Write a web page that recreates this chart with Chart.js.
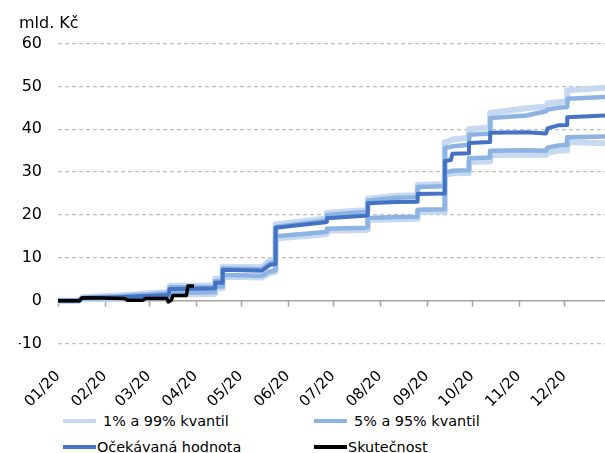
<!DOCTYPE html>
<html>
<head>
<meta charset="utf-8">
<script src="https://cdn.jsdelivr.net/npm/chart.js@4"></script>
<style>
  body { margin: 0; background: #fff; font-family: "DejaVu Sans", Verdana, sans-serif; }
  #wrap { position: relative; width: 605px; height: 453px; overflow: hidden; }
  #box { position: absolute; left: 0; top: 0; width: 605px; height: 408px; }
  .leg { position: absolute; display: flex; align-items: center; font-size: 14.4px; color: #000; white-space: nowrap; height: 20px; }
  .leg i { display: block; width: 33px; }
</style>
</head>
<body>
<div id="wrap">
  <div id="box"><canvas id="forecastChart"></canvas></div>
  <div id="legend"></div>
</div>
<script>
/* ---------- DATA ---------- */
const monthLabels = ["01/20","02/20","03/20","04/20","05/20","06/20","07/20","08/20","09/20","10/20","11/20","12/20"];
const monthStarts = [0, 31, 60, 91, 121, 152, 182, 213, 244, 274, 305, 335];

// day of year where the curves break (repeated day = vertical step)
const days = [0, 14, 16, 40, 73, 74, 91, 104, 104, 109, 109, 135, 140, 144, 144, 177, 178, 178, 203, 205, 205, 224, 238, 238, 256, 256, 260, 261, 272, 272, 286, 286, 310, 323, 324, 331, 337, 337, 362];

const q99 = [0, 0, 0.8, 1.2, 2.0, 3.5, 3.5, 3.6, 5.1, 5.1, 7.9, 7.8, 9.3, 9.6, 17.8, 19.2, 19.3, 20.5, 21.1, 21.2, 23.8, 24.5, 24.6, 27.0, 27.2, 37.0, 37.4, 37.6, 38.0, 40.0, 40.4, 43.8, 44.9, 45.3, 46.0, 46.3, 46.5, 49.1, 49.7];
const q95 = [0, 0, 0.7, 1.0, 1.7, 3.1, 3.1, 3.2, 4.6, 4.6, 7.5, 7.3, 8.7, 9.0, 17.2, 18.7, 18.8, 20.0, 20.7, 20.8, 23.3, 24.0, 24.1, 26.5, 26.7, 35.6, 35.9, 36.0, 36.4, 38.7, 39.0, 42.6, 43.2, 44.2, 44.6, 45.0, 45.2, 47.1, 47.5];
const expected = [0, 0, 0.6, 0.8, 1.3, 2.7, 2.8, 2.9, 4.2, 4.2, 7.2, 7.0, 8.3, 8.6, 17.0, 18.3, 18.4, 19.2, 19.8, 19.9, 22.7, 23.0, 23.1, 24.9, 25.0, 32.6, 32.8, 34.3, 34.4, 36.8, 37.0, 39.2, 39.3, 39.0, 40.2, 40.9, 41.0, 42.8, 43.2];
const q5 = [0, 0, 0.5, 0.6, 0.9, 1.9, 1.9, 2.0, 3.3, 3.3, 6.0, 5.8, 6.8, 7.1, 15.0, 16.0, 16.1, 16.8, 17.0, 17.1, 19.3, 19.5, 19.6, 21.2, 21.3, 30.0, 30.2, 30.3, 30.4, 33.2, 33.4, 35.0, 35.1, 35.0, 35.7, 36.2, 36.3, 38.1, 38.3];
const q1 = [0, 0, 0.4, 0.5, 0.7, 1.5, 1.5, 1.6, 2.9, 2.9, 5.6, 5.4, 6.4, 6.7, 14.5, 15.5, 15.6, 16.3, 16.5, 16.6, 18.8, 19.0, 19.1, 20.7, 20.8, 29.4, 29.6, 29.7, 29.8, 32.3, 32.5, 34.0, 34.1, 34.0, 34.5, 35.0, 35.1, 37.0, 36.7];

const actualDays = [0, 14, 16, 30, 44, 46, 56, 58, 72, 73, 75, 76, 85, 86, 90];
const actual = [0, 0, 0.7, 0.6, 0.5, 0.1, 0.1, 0.5, 0.5, -0.3, 0.1, 1.2, 1.2, 3.4, 3.4];

const legendLabels = ["1% a 99% kvantil", "5% a 95% kvantil", "Očekávaná hodnota", "Skutečnost"];

/* ---------- STYLE ---------- */
const LIGHT = "#c6d9f1";
const MID = "#8db3e2";
const DARK = "#4472c4";
const BLACK = "#000000";

function pts(xs, ys) {
  return xs.map((x, i) => ({ x: x, y: ys[i] }));
}

function line(label, xs, ys, color, width, order) {
  return {
    label: label,
    data: pts(xs, ys),
    borderColor: color,
    backgroundColor: color,
    borderWidth: width,
    borderJoinStyle: "round",
    pointRadius: 0,
    fill: false,
    order: order
  };
}

/* zero axis line + month tick marks */
const zeroAxis = {
  id: "zeroAxis",
  beforeDatasetsDraw(chart) {
    const ctx = chart.ctx;
    const x = chart.scales.x;
    const y0 = chart.scales.y.getPixelForValue(0);
    ctx.save();
    ctx.strokeStyle = "#a6a6a6";
    ctx.lineWidth = 1.5;
    ctx.beginPath();
    ctx.moveTo(chart.chartArea.left, y0);
    ctx.lineTo(chart.chartArea.right, y0);
    monthStarts.forEach(m => {
      const px = Math.round(x.getPixelForValue(m)) + 0.5;
      ctx.moveTo(px, y0);
      ctx.lineTo(px, y0 + 6);
    });
    ctx.stroke();
    ctx.restore();
  }
};

/* ---------- CHART ---------- */
let chart;

function initChart() {
  chart = new Chart(document.getElementById("forecastChart"), {
    type: "line",
    data: {
      datasets: [
        line(legendLabels[3], actualDays, actual, BLACK, 3.5, 0),
        line(legendLabels[2], days, expected, DARK, 4, 1),
        line(legendLabels[1], days, q95, MID, 4.5, 2),
        line(legendLabels[1], days, q5, MID, 4.5, 2),
        line(legendLabels[0], days, q99, LIGHT, 6, 3),
        line(legendLabels[0], days, q1, LIGHT, 6, 3)
      ]
    },
    options: {
      responsive: true,
      maintainAspectRatio: false,
      animation: false,
      layout: { padding: { left: 19, right: 0, top: 0, bottom: 0 } },
      plugins: {
        legend: { display: false },
        tooltip: { enabled: false },
        title: {
          display: true,
          text: "mld. Kč",
          align: "start",
          color: "#000",
          font: { family: "DejaVu Sans", size: 16, weight: "normal" },
          padding: { top: 14.4, bottom: 9.9 }
        }
      },
      scales: {
        x: {
          type: "linear",
          min: 0,
          max: 362,
          afterBuildTicks: s => { s.ticks = monthStarts.map(v => ({ value: v })); },
          afterFit: s => { s.height = 408 - 343.5; },
          grid: { display: false },
          border: { display: false },
          ticks: {
            autoSkip: false,
            maxRotation: 45,
            minRotation: 45,
            padding: 16,
            color: "#000",
            font: { family: "DejaVu Sans", size: 15 },
            callback: v => monthLabels[monthStarts.indexOf(v)]
          }
        },
        y: {
          min: -10,
          max: 60,
          afterFit: s => { s.width = 39; },
          grid: {
            drawTicks: false,
            lineWidth: 1.2,
            color: c => (c.tick && c.tick.value === 0) ? "rgba(0,0,0,0)" : "#bfbfbf"
          },
          border: { display: false, dash: [4, 3] },
          ticks: {
            stepSize: 10,
            padding: 16,
            color: "#000",
            font: { family: "DejaVu Sans", size: 16 }
          }
        }
      }
    },
    plugins: [zeroAxis]
  });
}

/* ---------- LEGEND ---------- */
function buildLegend() {
  const colors = [LIGHT, MID, DARK, BLACK];
  const widths = [4.5, 4.5, 3.5, 3.5];
  const holder = document.getElementById("legend");
  legendLabels.forEach((txt, i) => {
    const row = Math.floor(i / 2);
    const col = i % 2;
    const d = document.createElement("div");
    d.className = "leg";
    d.style.left = (col === 0 ? 63 : 314) + "px";
    d.style.top = (row === 0 ? 411 : 437) + "px";
    d.innerHTML = `<i style="height:${widths[i]}px;background:${colors[i]};margin-right:${row === 0 ? 7 : 1}px"></i><span>${txt}</span>`;
    holder.appendChild(d);
  });
}

window.onload = () => { initChart(); buildLegend(); };
</script>
</body>
</html>
